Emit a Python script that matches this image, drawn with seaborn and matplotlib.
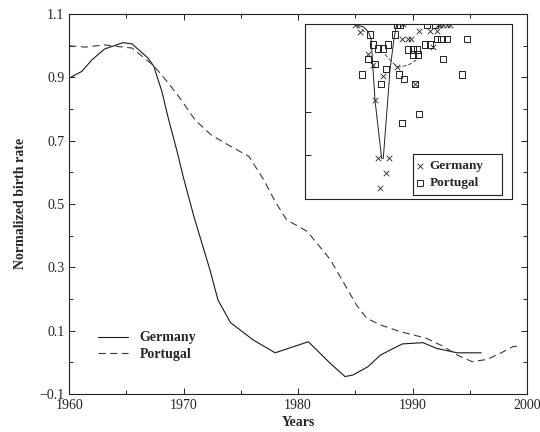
import matplotlib
matplotlib.use("Agg")
import matplotlib.pyplot as plt
import seaborn as sns
import pandas as pd
from matplotlib.ticker import MultipleLocator

# ---------------- data ----------------
germany_years = [1960, 1961.1, 1962, 1963.1, 1964.7, 1965.5, 1966.9, 1967.4, 1968.1, 1968.7,
                 1969.4, 1970.0, 1970.9, 1972.3, 1973.0, 1974.1, 1976.1, 1978.0, 1980.9,
                 1982.8, 1984.1, 1984.8, 1986.1, 1987.2, 1989.1, 1990.9, 1992.1, 1993.9, 1996.0]
germany_rate = [0.897, 0.918, 0.955, 0.989, 1.009, 1.005, 0.96, 0.934, 0.855, 0.765,
                0.67, 0.581, 0.46, 0.292, 0.197, 0.125, 0.07, 0.03, 0.065,
                -0.003, -0.045, -0.04, -0.014, 0.023, 0.058, 0.062, 0.044, 0.03, 0.03]

portugal_years = [1960, 1961.4, 1963.1, 1964.7, 1965.5, 1967.4, 1968.7, 1969.8, 1971.0, 1972.4,
                  1973.9, 1974.6, 1975.7, 1977.0, 1978.0, 1979.0, 1980.8, 1982.8, 1984.0,
                  1985.1, 1986.0, 1987.2, 1988.9, 1991.2, 1992.7, 1993.9, 1995.2, 1996.5,
                  1997.7, 1998.8, 1999.4]
portugal_rate = [0.999, 0.995, 1.002, 0.995, 0.992, 0.936, 0.88, 0.828, 0.765, 0.718,
                 0.686, 0.672, 0.65, 0.576, 0.507, 0.45, 0.413, 0.325, 0.25,
                 0.181, 0.139, 0.118, 0.097, 0.076, 0.05, 0.023, 0.002, 0.009,
                 0.029, 0.05, 0.05]

# inset (phase-plot) points, in inset units 0..1
inset_germany_x = [0.242, 0.266, 0.306, 0.330, 0.378, 0.338, 0.354, 0.407, 0.391, 0.362,
                   0.443, 0.467, 0.499, 0.512, 0.552, 0.531, 0.604, 0.636, 0.620,
                   0.652, 0.668, 0.685, 0.700, 0.475, 0.645]
inset_germany_y = [0.998, 0.956, 0.827, 0.766, 0.703, 0.566, 0.233, 0.233, 0.147, 0.065,
                   0.756, 0.914, 0.914, 0.914, 0.960, 0.657, 0.960, 0.960, 0.870,
                   0.994, 0.994, 0.994, 0.994, 1.000, 0.998]

inset_portugal_x = [0.314, 0.327, 0.354, 0.378, 0.402, 0.306, 0.338, 0.274, 0.366, 0.391,
                    0.435, 0.443, 0.459, 0.453, 0.480, 0.499, 0.520, 0.542, 0.523, 0.547,
                    0.588, 0.628, 0.580, 0.604, 0.636, 0.660, 0.685, 0.668, 0.757, 0.781,
                    0.531, 0.552, 0.467]
inset_portugal_y = [0.941, 0.884, 0.861, 0.861, 0.884, 0.800, 0.771, 0.713, 0.657, 0.743,
                    0.941, 0.998, 0.998, 0.713, 0.686, 0.855, 0.855, 0.855, 0.827, 0.827,
                    0.998, 0.998, 0.884, 0.884, 0.914, 0.914, 0.914, 0.800, 0.713, 0.914,
                    0.657, 0.486, 0.433]

inset_solid_x = [0.242, 0.282, 0.306, 0.319, 0.338, 0.370, 0.378, 0.411, 0.430, 0.443]
inset_solid_y = [0.998, 0.985, 0.956, 0.918, 0.566, 0.233, 0.233, 0.743, 0.918, 1.000]
inset_dash_x = [0.386, 0.420, 0.449, 0.498, 0.536]
inset_dash_y = [0.829, 0.783, 0.754, 0.766, 0.794]
inset_dash2_x = [0.251, 0.270, 0.290]
inset_dash2_y = [0.989, 0.975, 0.954]

x_ticks = [1960, 1970, 1980, 1990, 2000]
y_ticks = [-0.1, 0.1, 0.3, 0.5, 0.7, 0.9, 1.1]

# ---------------- style ----------------
sns.set_style("ticks")
plt.rcParams["font.family"] = ["Liberation Serif", "DejaVu Serif"]
plt.rcParams["font.size"] = 10

fig = plt.figure(figsize=(5.4, 4.32), dpi=100)
ax = fig.add_axes([0.128, 0.088, 0.848, 0.880])

df_g = pd.DataFrame({"year": germany_years, "rate": germany_rate})
df_p = pd.DataFrame({"year": portugal_years, "rate": portugal_rate})

sns.lineplot(data=df_g, x="year", y="rate", ax=ax, color="#1a1a1a", lw=0.8,
             label="Germany", sort=False, estimator=None)
sns.lineplot(data=df_p, x="year", y="rate", ax=ax, color="#3a3a3a", lw=0.8,
             label="Portugal", sort=False, estimator=None, linestyle=(0, (6.5, 4)))

ax.set_xlim(1960, 2000)
ax.set_ylim(-0.1, 1.1)
ax.set_xticks(x_ticks)
ax.set_yticks(y_ticks)
ax.xaxis.set_minor_locator(MultipleLocator(5))
ax.yaxis.set_minor_locator(MultipleLocator(0.1))
ax.tick_params(which="both", direction="in", top=True, right=True, width=0.7,
               labelsize=10, colors="#222222")
ax.tick_params(which="major", length=4)
ax.tick_params(which="minor", length=3)
for s in ax.spines.values():
    s.set_linewidth(0.8)
    s.set_color("#222222")
ax.set_xlabel("Years", fontweight="bold", fontsize=10, labelpad=3)
ax.set_ylabel("Normalized birth rate", fontweight="bold", fontsize=10, labelpad=9)

leg = ax.legend(loc="lower left", bbox_to_anchor=(0.035, 0.054), frameon=False,
                handlelength=2.2, handletextpad=0.8, labelspacing=0.25,
                prop={"weight": "bold", "size": 10})

# ---------------- inset ----------------
axi = fig.add_axes([0.565, 0.539, 0.383, 0.405])
axi.set_facecolor("white")
axi.plot(inset_solid_x, inset_solid_y, color="#222222", lw=0.7)
axi.plot(inset_dash_x, inset_dash_y, color="#444444", lw=0.7, linestyle=(0, (4, 2)))
axi.plot(inset_dash2_x, inset_dash2_y, color="#444444", lw=0.7, linestyle=(0, (4, 2)))
sns.scatterplot(x=inset_germany_x, y=inset_germany_y, ax=axi, marker="x", color="#222222",
                s=16, linewidth=0.6, label="Germany", zorder=3)
sns.scatterplot(x=inset_portugal_x, y=inset_portugal_y, ax=axi, marker="s",
                facecolor="none", edgecolor="#222222", s=20, linewidth=0.7,
                label="Portugal", zorder=3)
axi.set_xlim(0, 1)
axi.set_ylim(0, 1)
axi.set_xticks([])
axi.set_yticks([0.25, 0.5, 0.75])
axi.set_yticklabels([])
axi.tick_params(axis="y", direction="in", length=4, width=0.7, left=True)
axi.set_xlabel("")
axi.set_ylabel("")
for s in axi.spines.values():
    s.set_linewidth(0.8)
    s.set_color("#222222")
lg = axi.legend(loc="lower left", bbox_to_anchor=(0.522, 0.023, 0.43, 0.26), mode="expand",
                frameon=True, fancybox=False, edgecolor="#222222", framealpha=1,
                handlelength=0.2, handletextpad=0.6, borderpad=0.45, labelspacing=0.35,
                borderaxespad=0, prop={"weight": "bold", "size": 9.5})
lg.get_frame().set_linewidth(0.8)

fig.savefig("out.png", dpi=100)
